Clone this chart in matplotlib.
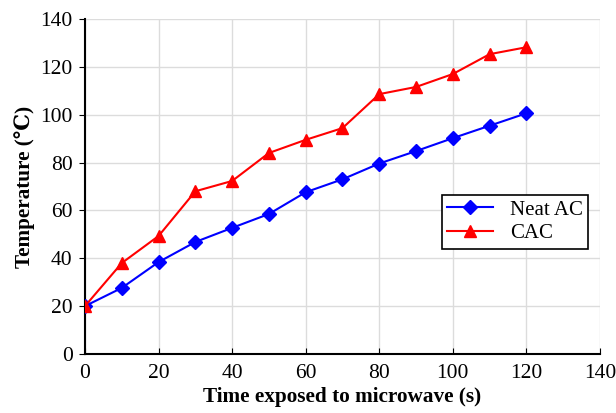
import matplotlib.pyplot as plt

time_s = [0, 10, 20, 30, 40, 50, 60, 70, 80, 90, 100, 110, 120]
neat_ac = [20, 27.6, 38.4, 46.8, 52.7, 58.5, 67.6, 73.0, 79.6, 84.8, 90.2, 95.4, 100.6]
cac = [20, 38.0, 49.3, 68.0, 72.3, 84.0, 89.5, 94.4, 108.6, 111.6, 117.0, 125.3, 128.2]
ticks = [0, 20, 40, 60, 80, 100, 120, 140]

plt.rcParams['font.family'] = ['Liberation Serif', 'DejaVu Serif']

fig = plt.figure(figsize=(6.16, 4.13), dpi=100)
ax = fig.add_axes([0.138, 0.143, 0.836, 0.811])

ax.plot(time_s, neat_ac, color='blue', marker='D', markersize=7, lw=1.5, label='Neat AC', zorder=3)
ax.plot(time_s, cac, color='red', marker='^', markersize=9, lw=1.5, label='CAC', zorder=3)

ax.set_xlim(0, 140)
ax.set_ylim(0, 140)
ax.set_xticks(ticks)
ax.set_yticks(ticks)
ax.tick_params(labelsize=15.5, direction='in', length=4, pad=5)
ax.tick_params(axis='x', pad=7)
ax.tick_params(axis='y', direction='out')
ax.grid(True, color='#dcdcdc', lw=1)
ax.set_axisbelow(True)
for s in ['top', 'right']:
    ax.spines[s].set_visible(False)
for s in ['left', 'bottom']:
    ax.spines[s].set_linewidth(1.5)

ax.set_xlabel('Time exposed to microwave (s)', fontsize=15.3, fontweight='bold', labelpad=3)
ax.set_ylabel('Temperature (\u2103)', fontsize=15.2, fontweight='bold')

leg = ax.legend(loc='center right', bbox_to_anchor=(0.997, 0.395), fontsize=15,
                fancybox=False, edgecolor='black', framealpha=1,
                handlelength=2.2, borderpad=0.25, labelspacing=0.2)
leg.get_frame().set_linewidth(1.2)

fig.savefig('out.png', dpi=100)
